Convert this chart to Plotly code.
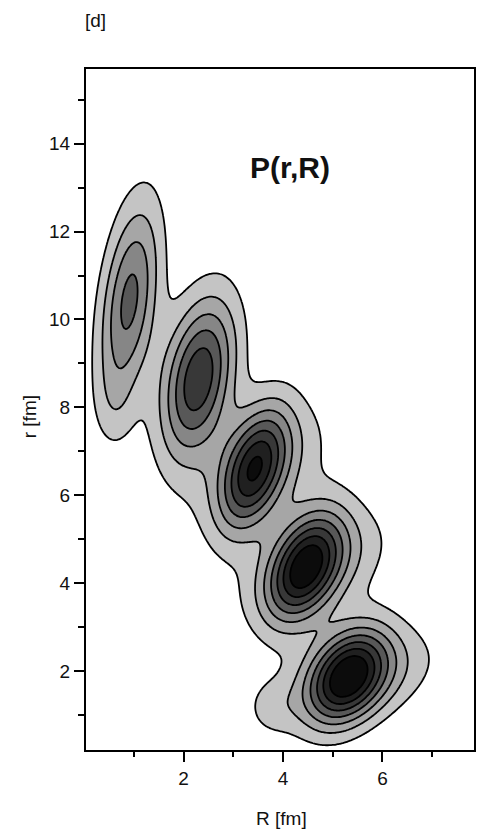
import numpy as np
import plotly.graph_objects as go

# Lobes of the probability density P(r,R): centre, core height, halo height,
# core widths and tilt. The halo broadens a lobe towards larger R.
peak_R = [0.91, 0.62, 2.30, 3.42, 4.45, 5.30, 3.75]
peak_r = [10.42, 8.00, 8.65, 6.62, 4.38, 1.88, 1.15]
core_amp = [4.3, 0.7, 5.8, 5.4, 6.0, 6.3, 1.0]
halo_amp = [0.0, 0.0, 0.0, 1.9, 2.2, 2.2, 0.0]
halo_shift = [0.0, 0.0, 0.0, 0.22, 0.22, 0.25, 0.0]
sigma_R = [0.43, 0.28, 0.52, 0.48, 0.525, 0.555, 0.35]
sigma_r = [1.58, 0.70, 1.28, 1.00, 0.88, 0.76, 0.45]
corr = [0.40, 0.0, 0.34, 0.45, 0.42, 0.35, 0.0]
halo_scale_R = 1.9

# Contour levels and band shades (background first)
levels = [1, 2, 3, 4, 5, 6, 7]
band_colors = ["#ffffff", "#c4c4c4", "#a6a6a6", "#868686", "#585858",
               "#383838", "#202020", "#0c0c0c"]

x_ticks = [2, 4, 6]
y_ticks = [2, 4, 6, 8, 10, 12, 14]

R = np.linspace(0.0, 8.0, 241)
r = np.linspace(0.0, 16.0, 481)
RR, rr = np.meshgrid(R, r)


def lobe(R0, r0, A, sR, sr, rho):
    a = (RR - R0) / sR
    b = (rr - r0) / sr
    q = (a * a - 2 * rho * a * b + b * b) / (1 - rho * rho)
    return A * np.exp(-0.5 * q)


P = np.zeros_like(RR)
for R0, r0, Ac, Ah, dh, sR, sr, rho in zip(peak_R, peak_r, core_amp, halo_amp,
                                           halo_shift, sigma_R, sigma_r, corr):
    P += lobe(R0, r0, Ac, sR, sr, rho)
    P += lobe(R0 + dh, r0, Ah, sR * halo_scale_R, sr, rho)

# stepped colour scale: one flat colour per band
n = len(band_colors)
colorscale = []
for k, c in enumerate(band_colors):
    lo = max(0.0, (k - 0.5) / (n - 1))
    hi = min(1.0, (k + 0.5) / (n - 1))
    colorscale.append([lo, c])
    colorscale.append([hi, c])

fig = go.Figure(go.Contour(
    x=R, y=r, z=P,
    autocontour=False,
    contours=dict(start=levels[0], end=levels[-1], size=levels[1] - levels[0],
                  coloring="fill"),
    colorscale=colorscale,
    showscale=False,
    line=dict(color="black", width=1.8, smoothing=1.0),
    hoverinfo="skip",
))

font = "Liberation Sans, Arial, Helvetica, sans-serif"
ink = "#111111"
axis_common = dict(
    showline=True, linecolor="black", linewidth=2, mirror=True,
    showgrid=False, zeroline=False,
    ticks="outside", ticklen=10, tickwidth=1.5, tickcolor="black",
    tickfont=dict(family=font, size=19, color=ink),
)


def label(text, x, y, size, angle=0):
    return dict(text=text, xref="paper", yref="paper", x=x, y=y,
                xanchor="center", yanchor="middle", textangle=angle,
                showarrow=False, font=dict(family=font, size=size, color=ink))


fig.update_layout(
    width=488, height=829,
    margin=dict(l=86, r=12, t=69, b=79),
    paper_bgcolor="white", plot_bgcolor="white",
    xaxis=dict(range=[0.04, 7.84], tickvals=x_ticks,
               minor=dict(ticks="outside", ticklen=5, tickwidth=1.5,
                          tickcolor="black", dtick=1, tick0=1),
               **axis_common),
    yaxis=dict(range=[0.2, 15.7], tickvals=y_ticks,
               minor=dict(ticks="outside", ticklen=6, tickwidth=1.5,
                          tickcolor="black", dtick=1, tick0=1),
               **axis_common),
    annotations=[
        label("R [fm]", 0.505, -0.0999, 19),
        label("r [fm]", -0.1436, 0.489, 19, -90),
        label("[d]", 0.0256, 1.0705, 19),
        label("<b>P(r,R)</b>", 0.526, 0.856, 30),
    ],
)

fig.write_html("out.html")
